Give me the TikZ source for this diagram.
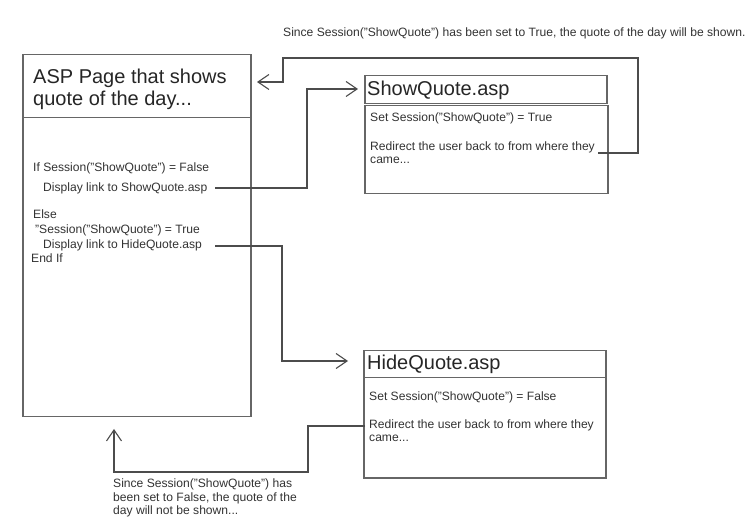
\documentclass[tikz,border=0pt]{standalone}
\usepackage{fontspec}
\setmainfont{Liberation Sans}
\usetikzlibrary{arrows.meta}
\begin{document}
\begin{tikzpicture}[x=1pt,y=-1pt,
  box/.style={draw=black!60,line width=1.5pt,inner sep=0pt,anchor=north west},
  conn/.style={draw=black!70,line width=1.1pt},
  tip/.style={-{Straight Barb[length=11pt,width=15pt,line width=1.1pt]}},
  small/.style={font=\fontsize{12.1}{14}\selectfont,text=black!80,anchor=base west,inner sep=0pt},
  big/.style={font=\fontsize{20}{22}\selectfont,text=black!85,anchor=base west,inner sep=0pt}]
\useasboundingbox[fill=white] (0,0) rectangle (745,521);

% boxes
\node[box,minimum width=228pt,minimum height=63pt]  (mtitle) at (22,54) {};
\node[box,minimum width=228pt,minimum height=299pt] (mbody)  at (22,117) {};
\node[box,minimum width=242pt,minimum height=28pt]  (stitle) at (364,75) {};
\node[box,minimum width=243pt,minimum height=88pt]  (sbody)  at (364,105) {};
\node[box,minimum width=242pt,minimum height=27pt]  (htitle) at (363,350) {};
\node[box,minimum width=242pt,minimum height=100pt] (hbody)  at (363,377) {};

% titles
\node[big] (t1) at (33,84) {ASP Page that shows};
\node[big] (t2) at (33,106) {quote of the day...};
\node[big] (t3) at (367,96) {ShowQuote.asp};
\node[big] (t4) at (367,370) {HideQuote.asp};

% main body text
\node[small] (m1) at (33,172) {If Session("ShowQuote") = False};
\node[small] (m2) at (43,192) {Display link to ShowQuote.asp};
\node[small] (m3) at (33,219) {Else};
\node[small] (m4) at (35,234) {"Session("ShowQuote") = True};
\node[small] (m5) at (43,249) {Display link to HideQuote.asp};
\node[small] (m6) at (31,263) {End If};

% ShowQuote body
\node[small] (s1) at (370,122) {Set Session("ShowQuote") = True};
\node[small] (s2) at (370,151) {Redirect the user back to from where they};
\node[small] (s3) at (370,164) {came...};

% HideQuote body
\node[small] (h1) at (369,401) {Set Session("ShowQuote") = False};
\node[small] (h2) at (369,429) {Redirect the user back to from where they};
\node[small] (h3) at (369,442) {came...};

% notes
\node[small] (n1) at (283,37) {Since Session("ShowQuote") has been set to True, the quote of the day will be shown.};
\node[small,align=left,anchor=north west,font=\fontsize{12.1}{13.5}\selectfont] (n2) at (113,479)
  {Since Session("ShowQuote") has\\been set to False, the quote of the\\day will not be shown...};

% connector end points
\coordinate (a1) at (215,188);
\coordinate (a2) at (215,246);
\coordinate (r1) at (598,153);
\coordinate (r2) at (365,426);
\coordinate (e1) at (257,82);
\coordinate (e2) at (114,429);

% connectors
\draw[conn,tip] (a1) -- (307,188) -- (307,89) -- ([xshift=-6pt]stitle.west |- 0,89);
\draw[conn,tip] (r1) -- (638,153) -- (638,58) -- (283,58) -- (283,82) -- (e1);
\draw[conn,tip] (a2) -- (282,246) -- (282,361) -- ([xshift=-15pt]htitle.west |- 0,361);
\draw[conn,tip] (r2) -- (308,426) -- (308,472) -- (114,472) -- (e2);
\end{tikzpicture}
\end{document}
